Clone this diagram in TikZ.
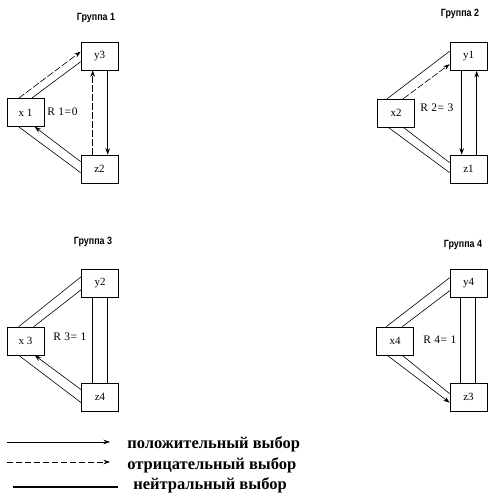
\documentclass[tikz,border=0pt]{standalone}
\usepackage{fontspec}
\setmainfont{Liberation Serif}
\newfontfamily\titlefont[FakeStretch=0.85]{Liberation Sans}
\usetikzlibrary{arrows.meta}

\tikzset{
  member/.style={draw,minimum width=37pt,minimum height=28pt,inner sep=0pt,
    font=\fontsize{11}{11}\selectfont},
  grouptitle/.style={font=\titlefont\bfseries\fontsize{10.5}{11}\selectfont},
  rel/.style={anchor=west,inner sep=0pt,
    font=\fontsize{11.5}{12}\selectfont\addfontfeature{LetterSpace=5}},
  poschoice/.style={->},
  negchoice/.style={->,dash pattern=on 7pt off 2pt},
  neuchoice/.style={},
  legendtext/.style={anchor=west,inner sep=0pt,font=\bfseries\fontsize{16.5}{17}\selectfont}
}

\begin{document}
\begin{tikzpicture}[x=1pt,y=-1pt,line width=0.6pt,>={Stealth[length=6.5pt,width=4.5pt]}]
\useasboundingbox (0,0) rectangle (492,496);
% Группа 1
\node[grouptitle] (g1) at (96,18) {Группа 1};
\node[member] (y3) at (99.5,56) {y3};
\node[member] (x1) at (25.5,112.5) {x 1};
\node[member] (z2) at (99.5,169) {z2};
\node[rel] (r1) at (47,112) {R 1=0};
\draw[negchoice] ([xshift=12pt]x1.north west) -- ([yshift=-10pt]y3.north west);
\draw[neuchoice] ([xshift=25pt]x1.north west) -- ([yshift=-20pt]y3.north west);
\draw[negchoice] ([xshift=12pt]z2.north west) -- ([xshift=12pt]y3.south west);
\draw[poschoice] ([xshift=27pt]y3.south west) -- ([xshift=27pt]z2.north west);
\draw[poschoice] ([yshift=-7pt]z2.north west) -- ([xshift=28pt]x1.south west);
\draw[neuchoice] ([xshift=12pt]x1.south west) -- ([yshift=-18pt]z2.north west);
% Группа 2
\node[grouptitle] (g2) at (460,14) {Группа 2};
\node[member] (y1) at (468.5,56.5) {y1};
\node[member] (x2) at (396,113) {x2};
\node[member] (z1) at (468.5,169) {z1};
\node[rel] (r2) at (420,108) {R 2= 3};
\draw[neuchoice] ([xshift=10pt]x2.north west) -- ([yshift=-9pt]y1.north west);
\draw[negchoice] ([xshift=26pt]x2.north west) -- ([yshift=-22pt]y1.north west);
\draw[poschoice] ([xshift=12pt]y1.south west) -- ([xshift=12pt]z1.north west);
\draw[poschoice] ([xshift=27pt]z1.north west) -- ([xshift=27pt]y1.south west);
\draw[neuchoice] ([xshift=26pt]x2.south west) -- ([yshift=-8pt]z1.north west);
\draw[neuchoice] ([xshift=11pt]x2.south west) -- ([yshift=-18pt]z1.north west);
% Группа 3
\node[grouptitle] (g3) at (93,242) {Группа 3};
\node[member] (y2) at (100,283) {y2};
\node[member] (x3) at (25.5,341) {x 3};
\node[member] (z4) at (100,397) {z4};
\node[rel] (r3) at (53,337) {R 3= 1};
\draw[neuchoice] ([xshift=12pt]x3.north west) -- ([yshift=-8pt]y2.north west);
\draw[neuchoice] ([xshift=27pt]x3.north west) -- ([yshift=-21pt]y2.north west);
\draw[neuchoice] ([xshift=11pt]y2.south west) -- ([xshift=11pt]z4.north west);
\draw[neuchoice] ([xshift=26pt]y2.south west) -- ([xshift=26pt]z4.north west);
\draw[poschoice] ([yshift=-7pt]z4.north west) -- ([xshift=28pt]x3.south west);
\draw[neuchoice] ([xshift=12pt]x3.south west) -- ([yshift=-20pt]z4.north west);
% Группа 4
\node[grouptitle] (g4) at (463,245) {Группа 4};
\node[member] (y4) at (468.5,283) {y4};
\node[member] (x4) at (395,341) {x4};
\node[member] (z3) at (468.5,397) {z3};
\node[rel] (r4) at (423,340) {R 4= 1};
\draw[neuchoice] ([xshift=10pt]x4.north west) -- ([yshift=-9pt]y4.north west);
\draw[neuchoice] ([xshift=26pt]x4.north west) -- ([yshift=-22pt]y4.north west);
\draw[neuchoice] ([xshift=11pt]y4.south west) -- ([xshift=11pt]z3.north west);
\draw[neuchoice] ([xshift=26pt]y4.south west) -- ([xshift=26pt]z3.north west);
\draw[neuchoice] ([xshift=26pt]x4.south west) -- ([yshift=-11pt]z3.north west);
\draw[poschoice] ([xshift=11pt]x4.south west) -- ([yshift=-20pt]z3.north west);
% легенда
\coordinate (pa) at (7,442);
\coordinate (pb) at (110,442);
\coordinate (na) at (7,462);
\coordinate (nb) at (110,462);
\coordinate (ea) at (13,487);
\coordinate (eb) at (118,487);
\draw[poschoice] (pa) -- (pb);
\draw[negchoice,line width=1pt,dash pattern=on 6pt off 3pt] (na) -- (nb);
\draw[neuchoice,line width=1.1pt] (ea) -- (eb);
\node[legendtext] (lp) at (127,444) {положительный выбор};
\node[legendtext] (ln) at (127,465) {отрицательный выбор};
\node[legendtext] (le) at (133,485) {нейтральный выбор};
\end{tikzpicture}
\end{document}
